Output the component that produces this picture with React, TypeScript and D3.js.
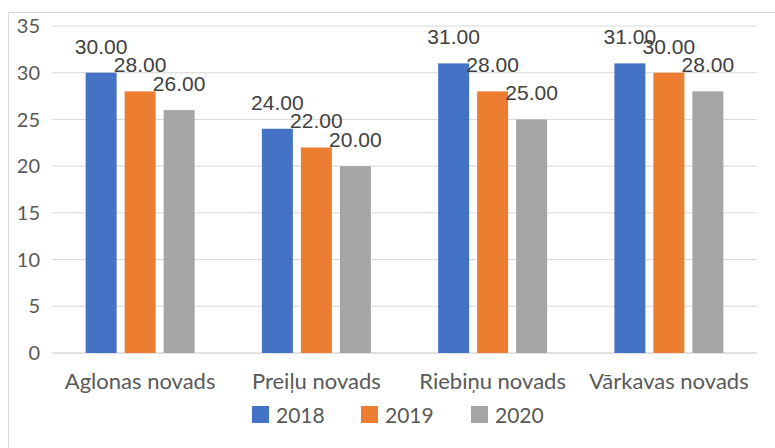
import * as d3 from 'd3'

const categories = ['Aglonas novads', 'Preiļu novads', 'Riebiņu novads', 'Vārkavas novads']
const seriesNames = ['2018', '2019', '2020']
const values2018 = [30, 24, 31, 31]
const values2019 = [28, 22, 28, 30]
const values2020 = [26, 20, 25, 28]
const yTicks = [0, 5, 10, 15, 20, 25, 30, 35]
const colors = ['#4472C4', '#ED7D31', '#A5A5A5']

const W = 775
const H = 448

export default function App() {
  const series = [values2018, values2019, values2020]
  const margin = { top: 26, left: 52, right: 18, bottom: 95 }
  const plotW = W - margin.left - margin.right
  const plotH = H - margin.top - margin.bottom

  const x0 = d3.scaleBand<string>().domain(categories).range([0, plotW])
  const x1 = d3
    .scaleBand<string>()
    .domain(seriesNames)
    .range([0, 31 * 3 + 8 * 2])
    .paddingInner(8 / 39)
  const groupOffset = (x0.bandwidth() - x1.range()[1]) / 2
  const y = d3.scaleLinear().domain([0, 35]).range([plotH, 0])

  const fontUi = 'Lato, "Open Sans", sans-serif'
  const fontLbl = '"Liberation Sans", Arial, sans-serif'

  const legendX = [252, 361, 471]

  return (
    <svg
      width={W}
      height={H}
      style={{ position: 'absolute', left: 0, top: 0, background: '#fff' }}
    >
      {/* outer frame (top + left only visible) */}
      <line x1={8.5} x2={W} y1={12.5} y2={12.5} stroke="#D9D9D9" />
      <line x1={8.5} x2={8.5} y1={12.5} y2={H} stroke="#D9D9D9" />
      <g transform={`translate(${margin.left},${margin.top})`}>
        {/* grid + y labels */}
        {yTicks.map(t => (
          <g key={t} transform={`translate(0,${y(t)})`}>
            <line x2={plotW} stroke="#D9D9D9" strokeWidth={t === 0 ? 1.5 : 1} />
            <text
              x={-12}
              dy="0.36em"
              textAnchor="end"
              fontFamily={fontUi}
              fontSize={20}
              fill="#595959"
            >
              {t}
            </text>
          </g>
        ))}
        {/* bars */}
        {categories.map((c, ci) => (
          <g key={c} transform={`translate(${(x0(c) ?? 0) + groupOffset},0)`}>
            {seriesNames.map((s, si) => {
              const v = series[si][ci]
              const bx = x1(s) ?? 0
              return (
                <g key={s}>
                  <rect
                    x={bx}
                    y={y(v)}
                    width={x1.bandwidth()}
                    height={plotH - y(v)}
                    fill={colors[si]}
                  />
                  <text
                    x={bx + x1.bandwidth() / 2}
                    y={y(v) - 19}
                    textAnchor="middle"
                    fontFamily={fontLbl}
                    fontSize={21}
                    fill="#404040"
                  >
                    {d3.format('.2f')(v)}
                  </text>
                </g>
              )
            })}
          </g>
        ))}
        {/* category labels */}
        {categories.map(c => (
          <text
            key={c}
            x={(x0(c) ?? 0) + x0.bandwidth() / 2}
            y={plotH + 36}
            textAnchor="middle"
            fontFamily={fontUi}
            fontSize={22}
            fill="#595959"
          >
            {c}
          </text>
        ))}
      </g>
      {/* legend */}
      {seriesNames.map((s, i) => (
        <g key={s} transform={`translate(${legendX[i]},406)`}>
          <rect width={17} height={17} fill={colors[i]} />
          <text
            x={24}
            y={17}
            fontFamily={fontUi}
            fontSize={21}
            fill="#595959"
          >
            {s}
          </text>
        </g>
      ))}
    </svg>
  )
}
